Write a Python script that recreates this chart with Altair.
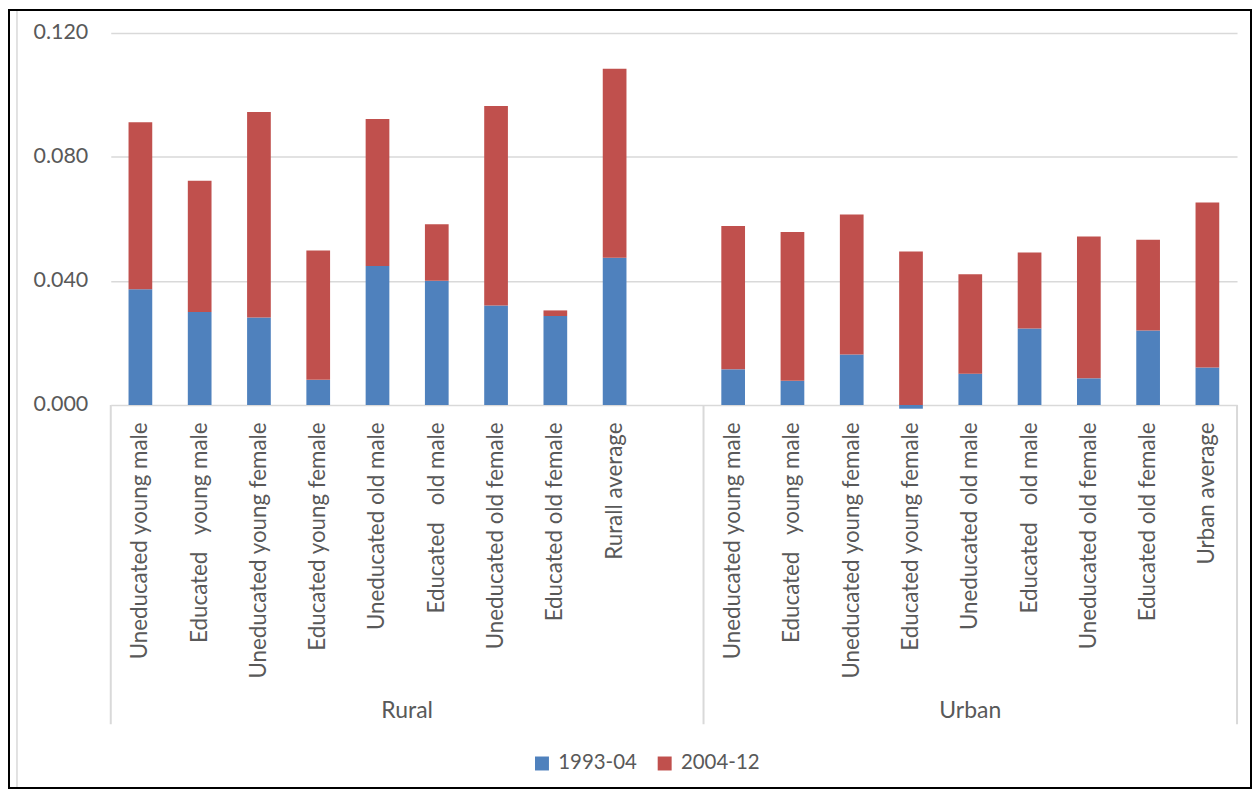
import json
import altair as alt
import pandas as pd

# ---- data ----
rural_labels = [
    "Uneducated young male",
    "Educated\u00a0\u00a0 young male",
    "Uneducated young female",
    "Educated young female",
    "Uneducated old male",
    "Educated\u00a0\u00a0 old male",
    "Uneducated old female",
    "Educated old female",
    "Rurall average",
]
urban_labels = [
    "Uneducated young male",
    "Educated\u00a0\u00a0 young male",
    "Uneducated young female",
    "Educated young female",
    "Uneducated old male",
    "Educated\u00a0\u00a0 old male",
    "Uneducated old female",
    "Educated old female",
    "Urban average",
]
rural_1993 = [0.0373, 0.0300, 0.0282, 0.0081, 0.0448, 0.0401, 0.0321, 0.0287, 0.0475]
rural_2004 = [0.0539, 0.0423, 0.0663, 0.0417, 0.0474, 0.0182, 0.0643, 0.0018, 0.0609]
urban_1993 = [0.0115, 0.0078, 0.0163, -0.0012, 0.0101, 0.0247, 0.0086, 0.0240, 0.0121]
urban_2004 = [0.0462, 0.0480, 0.0451, 0.0495, 0.0321, 0.0245, 0.0457, 0.0293, 0.0532]
series = ["1993-04", "2004-12"]
colors = ["#4F81BD", "#C0504D"]
groups = ["Rural", "Urban"]
y_ticks = [0, 0.04, 0.08, 0.12]

# slots: 10 for rural (last one empty), 9 for urban
slot_labels = rural_labels + [""] + urban_labels
n_slots = len(slot_labels)

rows = []
for i in range(len(rural_labels)):
    rows.append({"slot": i, "series": series[0], "value": rural_1993[i], "ord": 0})
    rows.append({"slot": i, "series": series[1], "value": rural_2004[i], "ord": 1})
for i in range(len(urban_labels)):
    s = len(rural_labels) + 1 + i
    rows.append({"slot": s, "series": series[0], "value": urban_1993[i], "ord": 0})
    rows.append({"slot": s, "series": series[1], "value": urban_2004[i], "ord": 1})
df = pd.DataFrame(rows)

group_df = pd.DataFrame({"pos": [5, 14.5], "label": groups})
sep_df = pd.DataFrame({"pos": [0, 10, 19]})
one = pd.DataFrame({"a": [0]})

W, H = 1129, 373
FONT = "Lato"
TXT = "#595959"
GRID = "#d9d9d9"

label_expr = json.dumps(slot_labels, ensure_ascii=False) + "[datum.value]"

bars = alt.Chart(df).mark_bar().encode(
    x=alt.X(
        "slot:O",
        scale=alt.Scale(domain=list(range(n_slots)), paddingInner=0.6, paddingOuter=0.3),
        axis=alt.Axis(
            title=None, labelExpr=label_expr, labelAngle=270, labelPadding=17,
            ticks=False, domain=False, labelFont=FONT, labelFontSize=22.4,
            labelColor=TXT, labelLimit=500,
        ),
    ),
    y=alt.Y(
        "value:Q", stack="zero",
        scale=alt.Scale(domain=[0, 0.12], nice=False),
        axis=alt.Axis(
            title=None, values=y_ticks, format=".3f", grid=True, gridColor=GRID,
            gridWidth=1.5, domain=False, ticks=False, labelPadding=23,
            labelFont=FONT, labelFontSize=21.5, labelColor=TXT,
        ),
    ),
    color=alt.Color(
        "series:N",
        scale=alt.Scale(domain=series, range=colors),
        legend=alt.Legend(
            title=None, orient="none", direction="horizontal", legendX=422, legendY=722,
            symbolType="square", symbolSize=196, symbolStrokeWidth=0,
            labelFont=FONT, labelFontSize=20.5, labelColor=TXT, labelOffset=6,
            columnPadding=17, padding=0,
        ),
    ),
    order=alt.Order("ord:Q"),
)

xq = alt.X("pos:Q", scale=alt.Scale(domain=[0, 19], nice=False, zero=False), axis=None)

seps = alt.Chart(sep_df).mark_rule(color=GRID, strokeWidth=2).encode(
    x=xq, y=alt.value(H), y2=alt.value(H + 320)
)
grp = alt.Chart(group_df).mark_text(
    font=FONT, fontSize=23, color=TXT, baseline="middle", align="center"
).encode(x=xq, y=alt.value(H + 307), text="label:N")

frame = alt.Chart(one).mark_rect(fill="transparent", stroke="black", strokeWidth=2).encode(
    x=alt.value(-102), x2=alt.value(W + 14), y=alt.value(-23), y2=alt.value(H + 384)
)
inner_line = alt.Chart(one).mark_rule(color=GRID, strokeWidth=1.5).encode(
    x=alt.value(-94), y=alt.value(-22), y2=alt.value(H + 383)
)

chart = (
    alt.layer(frame, inner_line, bars, seps, grp)
    .resolve_scale(x="independent")
    .properties(
        width=W, height=H,
        autosize=alt.AutoSizeParams(type="none"),
        padding={"left": 103, "top": 24, "right": 15, "bottom": 385},
        background="white",
    )
    .configure_view(strokeWidth=0)
)

chart.save("out.html", embed_options={"renderer": "svg", "actions": False})
